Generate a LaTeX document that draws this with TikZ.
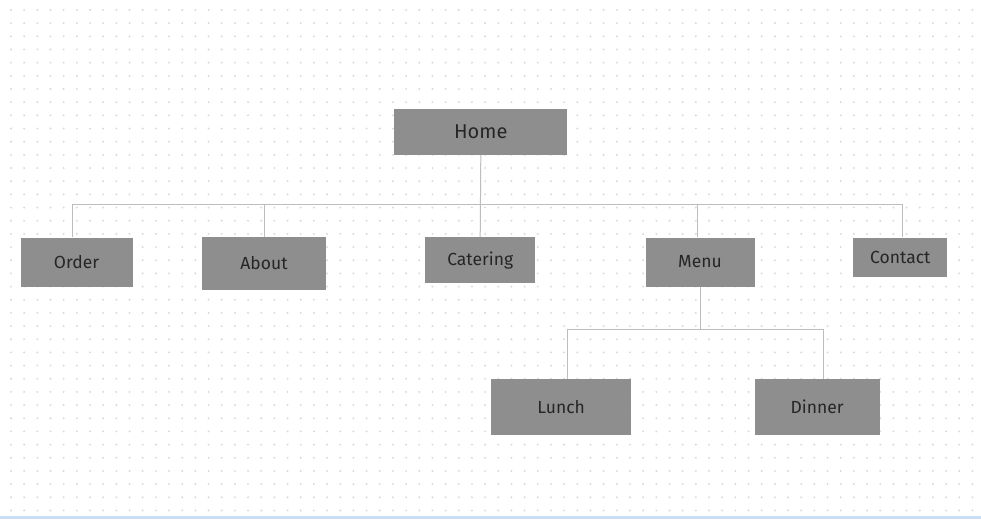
\documentclass[tikz,border=0pt]{standalone}
\usepackage{fontspec}
\setmainfont{Fira Sans}
\definecolor{boxfill}{HTML}{8E8E8E}
\definecolor{txt}{HTML}{262626}
\definecolor{wire}{HTML}{BDBDBD}
\definecolor{dotc}{HTML}{D8D8D8}
\definecolor{strip}{HTML}{C9DDF7}
\tikzset{
  pagebox/.style={rectangle, fill=boxfill, inner sep=0pt, text=txt, font=\fontsize{17.5}{20}\selectfont},
  wireline/.style={draw=wire, line width=1pt},
}
\begin{document}
\begin{tikzpicture}[x=1pt,y=-1pt]
\useasboundingbox (0,0) rectangle (981,519);
\fill[white] (0,0) rectangle (981,519);
\foreach \i in {0,...,73}{
  \foreach \j in {0,...,38}{
    \fill[dotc] (11+13.17*\i,10+13.17*\j) circle (1.05);
  }
}
\fill[strip] (0,515.5) rectangle (981,519);
% nodes
\node[pagebox, minimum width=173, minimum height=46, font=\fontsize{20}{22}\selectfont] (home) at (480.8,132) {Home};
\node[pagebox, minimum width=112, minimum height=49] (order) at (76.5,262) {Order};
\node[pagebox, minimum width=124, minimum height=52.5] (about) at (264,263.5) {About};
\node[pagebox, minimum width=110, minimum height=46] (catering) at (480.2,260.3) {Catering};
\node[pagebox, minimum width=109, minimum height=49] (menu) at (700,262) {Menu};
\node[pagebox, minimum width=94, minimum height=39] (contact) at (900.3,257) {Contact};
\node[pagebox, minimum width=140, minimum height=56] (lunch) at (561.2,407) {Lunch};
\node[pagebox, minimum width=125, minimum height=56] (dinner) at (817.2,407) {Dinner};
% connectors
\coordinate (busl) at (72.7,204);
\coordinate (busr) at (902.7,204);
\coordinate (subl) at (567.3,329.3);
\coordinate (subr) at (823.7,329.3);
\draw[wireline] (busl) -- (busr);
\draw[wireline] (home.south) -- (catering.north);
\draw[wireline] (busl) -- (busl |- order.north);
\draw[wireline] (about.north |- busl) -- (about.north);
\draw[wireline] ([xshift=-2.5]menu.north |- busl) -- ([xshift=-2.5]menu.north);
\draw[wireline] (busr) -- (busr |- contact.north);
\draw[wireline] (menu.south) -- (menu.south |- subl);
\draw[wireline] (subl) -- (subr);
\draw[wireline] (subl) -- (subl |- lunch.north);
\draw[wireline] (subr) -- (subr |- dinner.north);
\end{tikzpicture}
\end{document}
